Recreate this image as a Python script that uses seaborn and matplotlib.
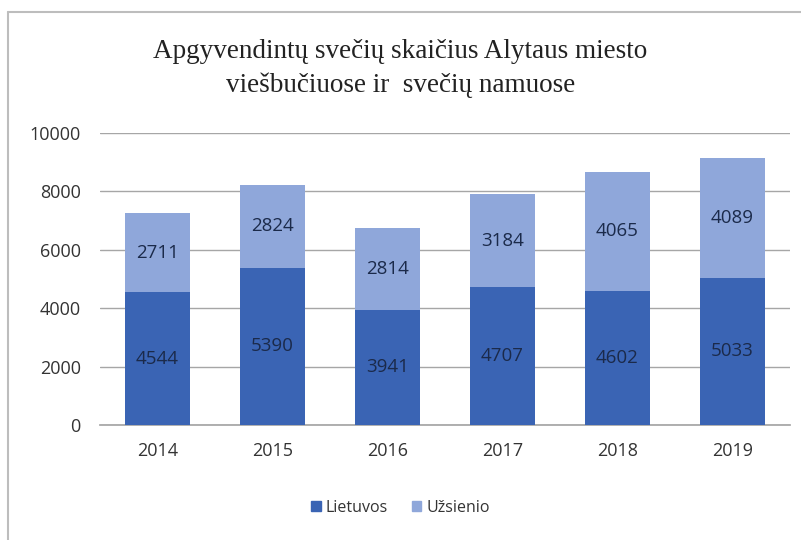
import pandas as pd
import matplotlib
matplotlib.use("Agg")
import matplotlib.pyplot as plt
import seaborn as sns
from matplotlib.patches import Patch

# data
years = ["2014", "2015", "2016", "2017", "2018", "2019"]
lietuvos = [4544, 5390, 3941, 4707, 4602, 5033]
uzsienio = [2711, 2824, 2814, 3184, 4065, 4089]

dark = "#3A64B4"
light = "#8FA7DA"

sns.set_theme(style="white")
plt.rcParams["font.family"] = ["Open Sans", "DejaVu Sans"]

df = pd.DataFrame({"Metai": years, "Lietuvos": lietuvos, "Užsienio": uzsienio})
df["Viso"] = df["Lietuvos"] + df["Užsienio"]

fig = plt.figure(figsize=(8.01, 5.40), dpi=100)
ax = fig.add_axes([0.125, 0.213, 0.861, 0.541])

# totals first (light), then domestic part on top (dark) -> stacked look
sns.barplot(data=df, x="Metai", y="Viso", color=light, width=0.57, saturation=1,
            linewidth=0, ax=ax, zorder=3)
sns.barplot(data=df, x="Metai", y="Lietuvos", color=dark, width=0.57, saturation=1,
            linewidth=0, ax=ax, zorder=3)

for i, row in df.iterrows():
    ax.text(i, row["Lietuvos"] / 2, str(row["Lietuvos"]), ha="center", va="center",
            fontsize=13.5, color="#1B2A4A", zorder=4)
    ax.text(i, row["Lietuvos"] + row["Užsienio"] / 2, str(row["Užsienio"]), ha="center",
            va="center", fontsize=13.5, color="#1B2A4A", zorder=4)

ax.set_ylim(0, 10000)
ax.set_yticks(range(0, 10001, 2000))
ax.yaxis.grid(True, color="#A6A6A6", linewidth=1)
ax.set_axisbelow(True)
ax.set_xlim(-0.5, 5.5)
ax.set_xlabel("")
ax.set_ylabel("")
ax.tick_params(axis="both", length=0, labelsize=13, colors="#333333")
ax.tick_params(axis="x", pad=12)
ax.tick_params(axis="y", pad=14)
for s in ["left", "right", "top"]:
    ax.spines[s].set_visible(False)
ax.spines["bottom"].set_color("#A6A6A6")

fig.text(0.5, 0.873, "Apgyvendintų svečių skaičius Alytaus miesto\nviešbučiuose ir  svečių namuose",
         ha="center", va="center", fontsize=19.5, family=["Liberation Serif", "DejaVu Serif"],
         color="#222222", linespacing=1.4)

handles = [Patch(color=dark, label="Lietuvos"), Patch(color=light, label="Užsienio")]
fig.legend(handles=handles, loc="center", bbox_to_anchor=(0.5, 0.06), ncol=2, frameon=False,
           fontsize=11.5, handlelength=0.6, handleheight=0.6, handletextpad=0.3, columnspacing=1.5,
           labelcolor="#333333")

# screenshot frame
fig.add_artist(plt.Line2D([0.01, 0.01], [0, 0.978], color="#BDBDBD", linewidth=1.5))
fig.add_artist(plt.Line2D([0.01, 1], [0.978, 0.978], color="#BDBDBD", linewidth=1.5))

fig.savefig("out.png", dpi=100)
